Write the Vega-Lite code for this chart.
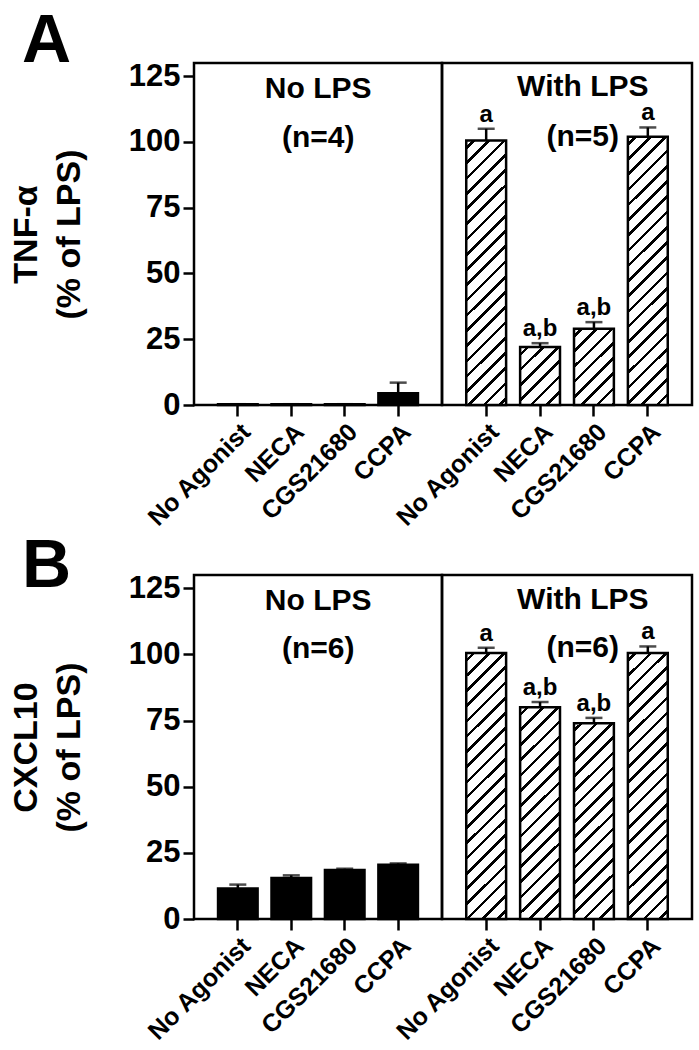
{
  "$schema": "https://vega.github.io/schema/vega-lite/v6.json",
  "padding": {"left": 8, "right": 0, "top": 7, "bottom": 0},
  "params": [
    {"name": "hatchStops", "value": [
      {"offset": 0.01810, "color": "#fff"}, {"offset": 0.01810, "color": "#000"}, {"offset": 0.02952, "color": "#000"}, {"offset": 0.02952, "color": "#fff"},
      {"offset": 0.06571, "color": "#fff"}, {"offset": 0.06571, "color": "#000"}, {"offset": 0.07714, "color": "#000"}, {"offset": 0.07714, "color": "#fff"},
      {"offset": 0.11333, "color": "#fff"}, {"offset": 0.11333, "color": "#000"}, {"offset": 0.12476, "color": "#000"}, {"offset": 0.12476, "color": "#fff"},
      {"offset": 0.16095, "color": "#fff"}, {"offset": 0.16095, "color": "#000"}, {"offset": 0.17238, "color": "#000"}, {"offset": 0.17238, "color": "#fff"},
      {"offset": 0.20857, "color": "#fff"}, {"offset": 0.20857, "color": "#000"}, {"offset": 0.22000, "color": "#000"}, {"offset": 0.22000, "color": "#fff"},
      {"offset": 0.25619, "color": "#fff"}, {"offset": 0.25619, "color": "#000"}, {"offset": 0.26762, "color": "#000"}, {"offset": 0.26762, "color": "#fff"},
      {"offset": 0.30381, "color": "#fff"}, {"offset": 0.30381, "color": "#000"}, {"offset": 0.31524, "color": "#000"}, {"offset": 0.31524, "color": "#fff"},
      {"offset": 0.35143, "color": "#fff"}, {"offset": 0.35143, "color": "#000"}, {"offset": 0.36286, "color": "#000"}, {"offset": 0.36286, "color": "#fff"},
      {"offset": 0.39905, "color": "#fff"}, {"offset": 0.39905, "color": "#000"}, {"offset": 0.41048, "color": "#000"}, {"offset": 0.41048, "color": "#fff"},
      {"offset": 0.44667, "color": "#fff"}, {"offset": 0.44667, "color": "#000"}, {"offset": 0.45810, "color": "#000"}, {"offset": 0.45810, "color": "#fff"},
      {"offset": 0.49429, "color": "#fff"}, {"offset": 0.49429, "color": "#000"}, {"offset": 0.50571, "color": "#000"}, {"offset": 0.50571, "color": "#fff"},
      {"offset": 0.54190, "color": "#fff"}, {"offset": 0.54190, "color": "#000"}, {"offset": 0.55333, "color": "#000"}, {"offset": 0.55333, "color": "#fff"},
      {"offset": 0.58952, "color": "#fff"}, {"offset": 0.58952, "color": "#000"}, {"offset": 0.60095, "color": "#000"}, {"offset": 0.60095, "color": "#fff"},
      {"offset": 0.63714, "color": "#fff"}, {"offset": 0.63714, "color": "#000"}, {"offset": 0.64857, "color": "#000"}, {"offset": 0.64857, "color": "#fff"},
      {"offset": 0.68476, "color": "#fff"}, {"offset": 0.68476, "color": "#000"}, {"offset": 0.69619, "color": "#000"}, {"offset": 0.69619, "color": "#fff"},
      {"offset": 0.73238, "color": "#fff"}, {"offset": 0.73238, "color": "#000"}, {"offset": 0.74381, "color": "#000"}, {"offset": 0.74381, "color": "#fff"},
      {"offset": 0.78000, "color": "#fff"}, {"offset": 0.78000, "color": "#000"}, {"offset": 0.79143, "color": "#000"}, {"offset": 0.79143, "color": "#fff"},
      {"offset": 0.82762, "color": "#fff"}, {"offset": 0.82762, "color": "#000"}, {"offset": 0.83905, "color": "#000"}, {"offset": 0.83905, "color": "#fff"},
      {"offset": 0.87524, "color": "#fff"}, {"offset": 0.87524, "color": "#000"}, {"offset": 0.88667, "color": "#000"}, {"offset": 0.88667, "color": "#fff"},
      {"offset": 0.92286, "color": "#fff"}, {"offset": 0.92286, "color": "#000"}, {"offset": 0.93429, "color": "#000"}, {"offset": 0.93429, "color": "#fff"},
      {"offset": 0.97048, "color": "#fff"}, {"offset": 0.97048, "color": "#000"}, {"offset": 0.98190, "color": "#000"}, {"offset": 0.98190, "color": "#fff"}
    ]}
  ],
  "datasets": {
    "bars": [
      {"panel": "A", "lps": "No LPS", "agonist": "No Agonist", "value": 0.3, "err": 0.3, "sig": ""},
      {"panel": "A", "lps": "No LPS", "agonist": "NECA", "value": 0.3, "err": 0.3, "sig": ""},
      {"panel": "A", "lps": "No LPS", "agonist": "CGS21680", "value": 0.3, "err": 0.3, "sig": ""},
      {"panel": "A", "lps": "No LPS", "agonist": "CCPA", "value": 4.5, "err": 8.5, "sig": ""},
      {"panel": "A", "lps": "With LPS", "agonist": "No Agonist", "value": 100.5, "err": 105, "sig": "a"},
      {"panel": "A", "lps": "With LPS", "agonist": "NECA", "value": 22, "err": 23.5, "sig": "a,b"},
      {"panel": "A", "lps": "With LPS", "agonist": "CGS21680", "value": 29, "err": 31.5, "sig": "a,b"},
      {"panel": "A", "lps": "With LPS", "agonist": "CCPA", "value": 102, "err": 105.5, "sig": "a"},
      {"panel": "B", "lps": "No LPS", "agonist": "No Agonist", "value": 11.5, "err": 13, "sig": ""},
      {"panel": "B", "lps": "No LPS", "agonist": "NECA", "value": 15.5, "err": 16.5, "sig": ""},
      {"panel": "B", "lps": "No LPS", "agonist": "CGS21680", "value": 18.5, "err": 19, "sig": ""},
      {"panel": "B", "lps": "No LPS", "agonist": "CCPA", "value": 20.5, "err": 21, "sig": ""},
      {"panel": "B", "lps": "With LPS", "agonist": "No Agonist", "value": 100.5, "err": 102.5, "sig": "a"},
      {"panel": "B", "lps": "With LPS", "agonist": "NECA", "value": 80, "err": 82, "sig": "a,b"},
      {"panel": "B", "lps": "With LPS", "agonist": "CGS21680", "value": 74, "err": 76, "sig": "a,b"},
      {"panel": "B", "lps": "With LPS", "agonist": "CCPA", "value": 100.5, "err": 103, "sig": "a"}
    ],
    "notes": [
      {"panel": "A", "lps": "No LPS", "text": "No LPS", "level": 120},
      {"panel": "A", "lps": "No LPS", "text": "(n=4)", "level": 101.5},
      {"panel": "A", "lps": "With LPS", "text": "With LPS", "level": 121},
      {"panel": "A", "lps": "With LPS", "text": "(n=5)", "level": 102},
      {"panel": "B", "lps": "No LPS", "text": "No LPS", "level": 120},
      {"panel": "B", "lps": "No LPS", "text": "(n=6)", "level": 102},
      {"panel": "B", "lps": "With LPS", "text": "With LPS", "level": 120.5},
      {"panel": "B", "lps": "With LPS", "text": "(n=6)", "level": 102.5}
    ]
  },
  "config": {
    "font": "Liberation Sans",
    "view": {"stroke": "black", "strokeWidth": 2.5},
    "axis": {
      "domain": false, "grid": false, "ticks": true, "tickColor": "black", "tickWidth": 2.5, "tickSize": 11,
      "labelColor": "black", "labelFontWeight": "bold", "labelFont": "Liberation Sans",
      "titleColor": "black", "titleFontWeight": "bold", "titleFont": "Liberation Sans"
    },
    "axisX": {"labelAngle": -45, "labelFontSize": 25, "labelPadding": 3, "title": null},
    "axisY": {"labelFontSize": 31, "labelPadding": 3, "titleFontSize": 34, "titleLineHeight": 43, "titlePadding": 42},
    "text": {"font": "Liberation Sans", "fontWeight": "bold", "color": "black"},
    "title": {"font": "Liberation Sans", "fontWeight": "bold", "color": "black", "fontSize": 68, "anchor": "start", "frame": "bounds"}
  },
  "spacing": -1,
  "vconcat": [
    {
      "title": {"text": "A", "offset": -17, "dx": 14},
      "spacing": 0,
      "bounds": "flush",
      "hconcat": [
        {
          "width": 248, "height": 342,
          "layer": [
            {
              "data": {"name": "bars"},
              "transform": [{"filter": "datum.panel == 'A' && datum.lps == 'No LPS'"}],
              "layer": [
                {"mark": {"type": "bar", "fill": "black", "stroke": "black", "strokeWidth": 2.5},
                 "encoding": {"y": {"field": "value", "type": "quantitative", "scale": {"domain": [0, 130], "nice": false}, "axis": {"title": ["TNF-α", "(% of LPS)"], "values": [0, 25, 50, 75, 100, 125]}}}},
                {"mark": {"type": "rule", "color": "black", "strokeWidth": 2.5},
                 "encoding": {"y": {"field": "value", "type": "quantitative"}, "y2": {"field": "err"}}},
                {"mark": {"type": "tick", "color": "black", "size": 17, "thickness": 2.5},
                 "encoding": {"y": {"field": "err", "type": "quantitative"}}}
              ]
            },
            {
              "data": {"name": "notes"},
              "transform": [{"filter": "datum.panel == 'A' && datum.lps == 'No LPS'"}],
              "mark": {"type": "text", "fontSize": 30, "baseline": "middle"},
              "encoding": {
                "x": {"datum": "NECA", "bandPosition": 1.18},
                "y": {"field": "level", "type": "quantitative"},
                "text": {"field": "text"}
              }
            }
          ],
          "encoding": {
            "x": {"field": "agonist", "type": "nominal", "sort": ["No Agonist", "NECA", "CGS21680", "CCPA"], "scale": {"domain": ["No Agonist", "NECA", "CGS21680", "CCPA"], "paddingInner": 0.26, "paddingOuter": 0.45}}
          }
        },
        {
          "width": 250, "height": 342,
          "layer": [
            {
              "data": {"name": "bars"},
              "transform": [{"filter": "datum.panel == 'A' && datum.lps == 'With LPS'"}],
              "layer": [
                {"mark": {"type": "bar", "stroke": "black", "strokeWidth": 2.5,
                  "fill": {"expr": "{gradient: 'linear', x1: 0, y1: 0, x2: 320*39.7/(1576 + pow(datum.value*2.63, 2)), y2: 320*datum.value*2.63/(1576 + pow(datum.value*2.63, 2)), stops: hatchStops}"}},
                 "encoding": {"y": {"field": "value", "type": "quantitative", "scale": {"domain": [0, 130], "nice": false}, "axis": null}}},
                {"mark": {"type": "rule", "color": "black", "strokeWidth": 2.5},
                 "encoding": {"y": {"field": "value", "type": "quantitative"}, "y2": {"field": "err"}}},
                {"mark": {"type": "tick", "color": "black", "size": 17, "thickness": 2.5},
                 "encoding": {"y": {"field": "err", "type": "quantitative"}}},
                {"mark": {"type": "text", "fontSize": 24, "baseline": "bottom", "dy": -2},
                 "encoding": {"y": {"field": "err", "type": "quantitative"}, "text": {"field": "sig"}}}
              ]
            },
            {
              "data": {"name": "notes"},
              "transform": [{"filter": "datum.panel == 'A' && datum.lps == 'With LPS'"}],
              "mark": {"type": "text", "fontSize": 30, "baseline": "middle"},
              "encoding": {
                "x": {"datum": "CGS21680", "bandPosition": 0.22},
                "y": {"field": "level", "type": "quantitative"},
                "text": {"field": "text"}
              }
            }
          ],
          "encoding": {
            "x": {"field": "agonist", "type": "nominal", "sort": ["No Agonist", "NECA", "CGS21680", "CCPA"], "scale": {"domain": ["No Agonist", "NECA", "CGS21680", "CCPA"], "paddingInner": 0.26, "paddingOuter": 0.45}}
          }
        }
      ]
    },
    {
      "title": {"text": "B", "offset": -30, "dx": 14},
      "spacing": 0,
      "bounds": "flush",
      "hconcat": [
        {
          "width": 248, "height": 344,
          "layer": [
            {
              "data": {"name": "bars"},
              "transform": [{"filter": "datum.panel == 'B' && datum.lps == 'No LPS'"}],
              "layer": [
                {"mark": {"type": "bar", "fill": "black", "stroke": "black", "strokeWidth": 2.5},
                 "encoding": {"y": {"field": "value", "type": "quantitative", "scale": {"domain": [0, 130], "nice": false}, "axis": {"title": ["CXCL10", "(% of LPS)"], "values": [0, 25, 50, 75, 100, 125]}}}},
                {"mark": {"type": "rule", "color": "black", "strokeWidth": 2.5},
                 "encoding": {"y": {"field": "value", "type": "quantitative"}, "y2": {"field": "err"}}},
                {"mark": {"type": "tick", "color": "black", "size": 17, "thickness": 2.5},
                 "encoding": {"y": {"field": "err", "type": "quantitative"}}}
              ]
            },
            {
              "data": {"name": "notes"},
              "transform": [{"filter": "datum.panel == 'B' && datum.lps == 'No LPS'"}],
              "mark": {"type": "text", "fontSize": 30, "baseline": "middle"},
              "encoding": {
                "x": {"datum": "NECA", "bandPosition": 1.18},
                "y": {"field": "level", "type": "quantitative"},
                "text": {"field": "text"}
              }
            }
          ],
          "encoding": {
            "x": {"field": "agonist", "type": "nominal", "sort": ["No Agonist", "NECA", "CGS21680", "CCPA"], "scale": {"domain": ["No Agonist", "NECA", "CGS21680", "CCPA"], "paddingInner": 0.26, "paddingOuter": 0.45}}
          }
        },
        {
          "width": 250, "height": 344,
          "layer": [
            {
              "data": {"name": "bars"},
              "transform": [{"filter": "datum.panel == 'B' && datum.lps == 'With LPS'"}],
              "layer": [
                {"mark": {"type": "bar", "stroke": "black", "strokeWidth": 2.5,
                  "fill": {"expr": "{gradient: 'linear', x1: 0, y1: 0, x2: 320*39.7/(1576 + pow(datum.value*2.646, 2)), y2: 320*datum.value*2.646/(1576 + pow(datum.value*2.646, 2)), stops: hatchStops}"}},
                 "encoding": {"y": {"field": "value", "type": "quantitative", "scale": {"domain": [0, 130], "nice": false}, "axis": null}}},
                {"mark": {"type": "rule", "color": "black", "strokeWidth": 2.5},
                 "encoding": {"y": {"field": "value", "type": "quantitative"}, "y2": {"field": "err"}}},
                {"mark": {"type": "tick", "color": "black", "size": 17, "thickness": 2.5},
                 "encoding": {"y": {"field": "err", "type": "quantitative"}}},
                {"mark": {"type": "text", "fontSize": 24, "baseline": "bottom", "dy": -2},
                 "encoding": {"y": {"field": "err", "type": "quantitative"}, "text": {"field": "sig"}}}
              ]
            },
            {
              "data": {"name": "notes"},
              "transform": [{"filter": "datum.panel == 'B' && datum.lps == 'With LPS'"}],
              "mark": {"type": "text", "fontSize": 30, "baseline": "middle"},
              "encoding": {
                "x": {"datum": "CGS21680", "bandPosition": 0.22},
                "y": {"field": "level", "type": "quantitative"},
                "text": {"field": "text"}
              }
            }
          ],
          "encoding": {
            "x": {"field": "agonist", "type": "nominal", "sort": ["No Agonist", "NECA", "CGS21680", "CCPA"], "scale": {"domain": ["No Agonist", "NECA", "CGS21680", "CCPA"], "paddingInner": 0.26, "paddingOuter": 0.45}}
          }
        }
      ]
    }
  ]
}
